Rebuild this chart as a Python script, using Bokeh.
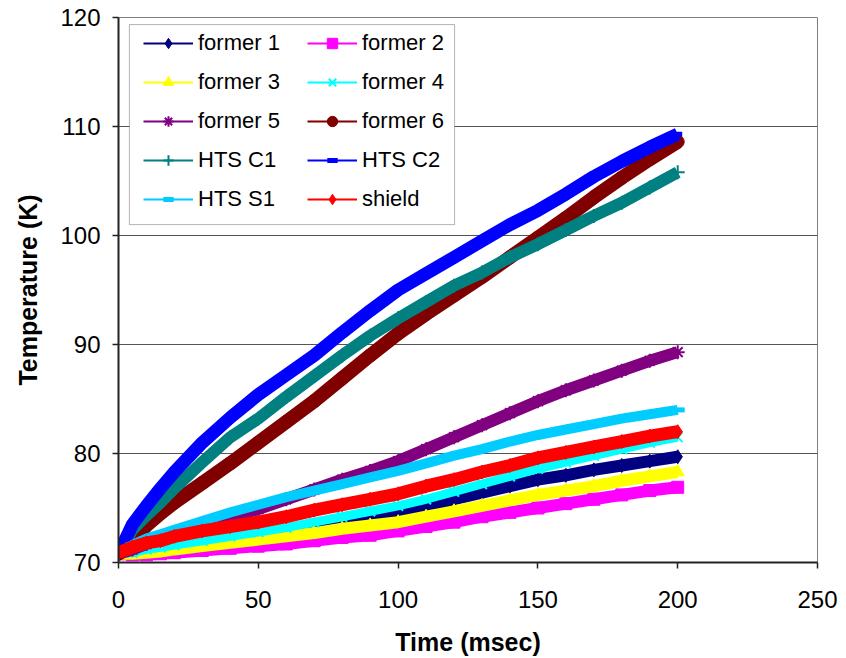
from bokeh.plotting import figure
from bokeh.models import Legend, LegendItem, BoxAnnotation, FixedTicker, Range1d
from bokeh.embed import file_html
from bokeh.resources import INLINE

# ---------------- data ----------------
time_ms = [0, 5, 10, 15, 20, 30, 40, 50, 60, 70, 80, 90, 100,
           110, 120, 130, 140, 150, 160, 170, 180, 190, 200]

former_1 = [70.8, 70.9, 71.0, 71.2, 71.4, 71.8, 72.2, 72.6, 72.9, 73.3, 73.7, 74.1, 74.5,
            75.1, 75.8, 76.4, 77.0, 77.6, 78.0, 78.5, 78.9, 79.3, 79.7]
former_2 = [70.8, 70.7, 70.7, 70.8, 70.9, 71.1, 71.3, 71.5, 71.7, 72.0, 72.3, 72.5, 72.9,
            73.3, 73.7, 74.2, 74.6, 75.0, 75.4, 75.8, 76.2, 76.6, 76.9]
former_3 = [70.8, 70.8, 70.9, 71.0, 71.2, 71.5, 71.8, 72.1, 72.4, 72.7, 73.1, 73.4, 73.7,
            74.2, 74.7, 75.2, 75.7, 76.2, 76.6, 77.0, 77.5, 77.9, 78.3]
former_4 = [70.8, 70.9, 71.2, 71.4, 71.6, 72.0, 72.4, 72.8, 73.2, 73.7, 74.2, 74.7, 75.2,
            75.8, 76.5, 77.2, 77.9, 78.6, 79.2, 79.8, 80.4, 81.0, 81.5]
former_5 = [70.8, 71.2, 71.7, 72.2, 72.6, 73.4, 74.2, 74.9, 75.8, 76.7, 77.6, 78.4, 79.3,
            80.4, 81.5, 82.6, 83.7, 84.8, 85.8, 86.7, 87.6, 88.5, 89.3]
former_6 = [70.8, 72.0, 73.4, 74.5, 75.5, 77.3, 79.1, 81.0, 82.9, 84.8, 86.9, 89.0, 91.0,
            92.8, 94.5, 96.2, 98.0, 99.8, 101.6, 103.5, 105.3, 107.0, 108.6]
hts_c1 = [70.8, 73.0, 74.3, 75.5, 76.8, 79.2, 81.5, 83.2, 85.2, 87.1, 89.0, 90.8, 92.4,
          93.9, 95.4, 96.6, 98.0, 99.2, 100.5, 101.8, 103.0, 104.4, 105.8]
hts_c2 = [70.8, 73.5, 75.2, 76.8, 78.3, 81.0, 83.3, 85.4, 87.2, 89.0, 91.1, 93.1, 95.0,
          96.5, 98.0, 99.5, 101.0, 102.3, 103.8, 105.4, 106.8, 108.1, 109.3]
hts_s1 = [70.9, 71.6, 72.2, 72.6, 73.0, 73.8, 74.6, 75.3, 76.0, 76.6, 77.2, 77.8, 78.4,
          79.1, 79.8, 80.4, 81.1, 81.7, 82.2, 82.7, 83.2, 83.6, 84.0]
shield = [70.9, 71.4, 71.8, 72.0, 72.4, 72.9, 73.3, 73.7, 74.2, 74.8, 75.3, 75.8, 76.3,
          77.0, 77.6, 78.3, 78.9, 79.6, 80.1, 80.6, 81.1, 81.6, 82.0]

series_names = ["former 1", "former 2", "former 3", "former 4", "former 5",
                "former 6", "HTS C1", "HTS C2", "HTS S1", "shield"]
series_values = [former_1, former_2, former_3, former_4, former_5,
                 former_6, hts_c1, hts_c2, hts_s1, shield]

x_ticks = [0, 50, 100, 150, 200, 250]
y_ticks = [70, 80, 90, 100, 110, 120]

# ---------------- styles ----------------
colors = ["#000080", "#FF00FF", "#FFFF00", "#00FFFF", "#800080",
          "#800000", "#008080", "#0000FF", "#00CCFF", "#FF0000"]
markers = ["diamond", "square", "triangle", "x", "asterisk",
           "circle", "cross", "dash", "dash", "diamond"]
marker_sizes = [14, 12, 13, 14, 14, 13, 14, 9, 14, 14]
band_widths = [12, 12, 12, 9, 12, 14, 12, 13, 10, 13]

FONT = "Liberation Sans"

p = figure(frame_width=699, frame_height=545,
           min_border_left=118, min_border_right=21,
           min_border_top=17, min_border_bottom=86,
           x_range=Range1d(0, 250), y_range=Range1d(70, 120),
           output_backend="svg", toolbar_location=None,
           background_fill_color="white", border_fill_color="white")

p.outline_line_color = "#808080"
p.outline_line_width = 1
p.xgrid.visible = False
p.ygrid.grid_line_color = "#555555"
p.ygrid.grid_line_width = 1
p.ygrid.ticker = FixedTicker(ticks=y_ticks)

for ax, ticks in ((p.xaxis[0], x_ticks), (p.yaxis[0], y_ticks)):
    ax.ticker = FixedTicker(ticks=ticks)
    ax.axis_line_color = "#222222"
    ax.axis_line_width = 2
    ax.major_tick_line_color = "#222222"
    ax.major_tick_line_width = 1.5
    ax.major_tick_in = 0
    ax.major_tick_out = 6
    ax.minor_tick_line_color = None
    ax.major_label_text_font = FONT
    ax.major_label_text_font_size = "24px"
    ax.major_label_text_color = "black"
    ax.axis_label_text_font = FONT
    ax.axis_label_text_font_size = "25px"
    ax.axis_label_text_font_style = "bold"
    ax.axis_label_text_color = "black"

p.xaxis.axis_label = "Time (msec)"
p.yaxis.axis_label = "Temperature (K)"
p.xaxis.major_label_standoff = 22
p.yaxis.major_label_standoff = 12
p.xaxis.axis_label_standoff = 17
p.yaxis.axis_label_standoff = 15

items = []
for name, vals, col, mk, ms, bw in zip(series_names, series_values, colors,
                                        markers, marker_sizes, band_widths):
    p.line(time_ms, vals, line_color=col, line_width=bw, line_join="round")
    thin = p.line(time_ms, vals, line_color=col, line_width=2)
    if mk == "dash":
        sc = p.scatter(time_ms, vals, marker="dash", size=ms, line_color=col,
                       line_width=5)
    elif mk in ("x", "asterisk", "cross"):
        sc = p.scatter(time_ms, vals, marker=mk, size=ms, line_color=col,
                       line_width=2)
    else:
        sc = p.scatter(time_ms, vals, marker=mk, size=ms, fill_color=col,
                       line_color=col)
    items.append(LegendItem(label=name, renderers=[thin, sc]))

# legend box (frame drawn behind the two legend columns)
box = BoxAnnotation(left=3.9, right=120.2, bottom=101.0, top=119.35,
                    fill_color="white", fill_alpha=1.0,
                    line_color="black", line_width=1)
p.add_layout(box)

def make_legend(its, x_off):
    lg = Legend(items=its, location=(x_off, 350),
                border_line_color=None, background_fill_alpha=0,
                label_text_font=FONT, label_text_font_size="22px",
                label_text_color="black",
                glyph_width=50, glyph_height=26, label_standoff=5,
                label_height=26, spacing=13, padding=0, margin=0)
    return lg

left_items = [items[i] for i in (0, 2, 4, 6, 8)]
right_items = [items[i] for i in (1, 3, 5, 7, 9)]
p.add_layout(make_legend(left_items, 25), "center")
p.add_layout(make_legend(right_items, 189), "center")

open("out.html", "w").write(file_html(p, INLINE))
